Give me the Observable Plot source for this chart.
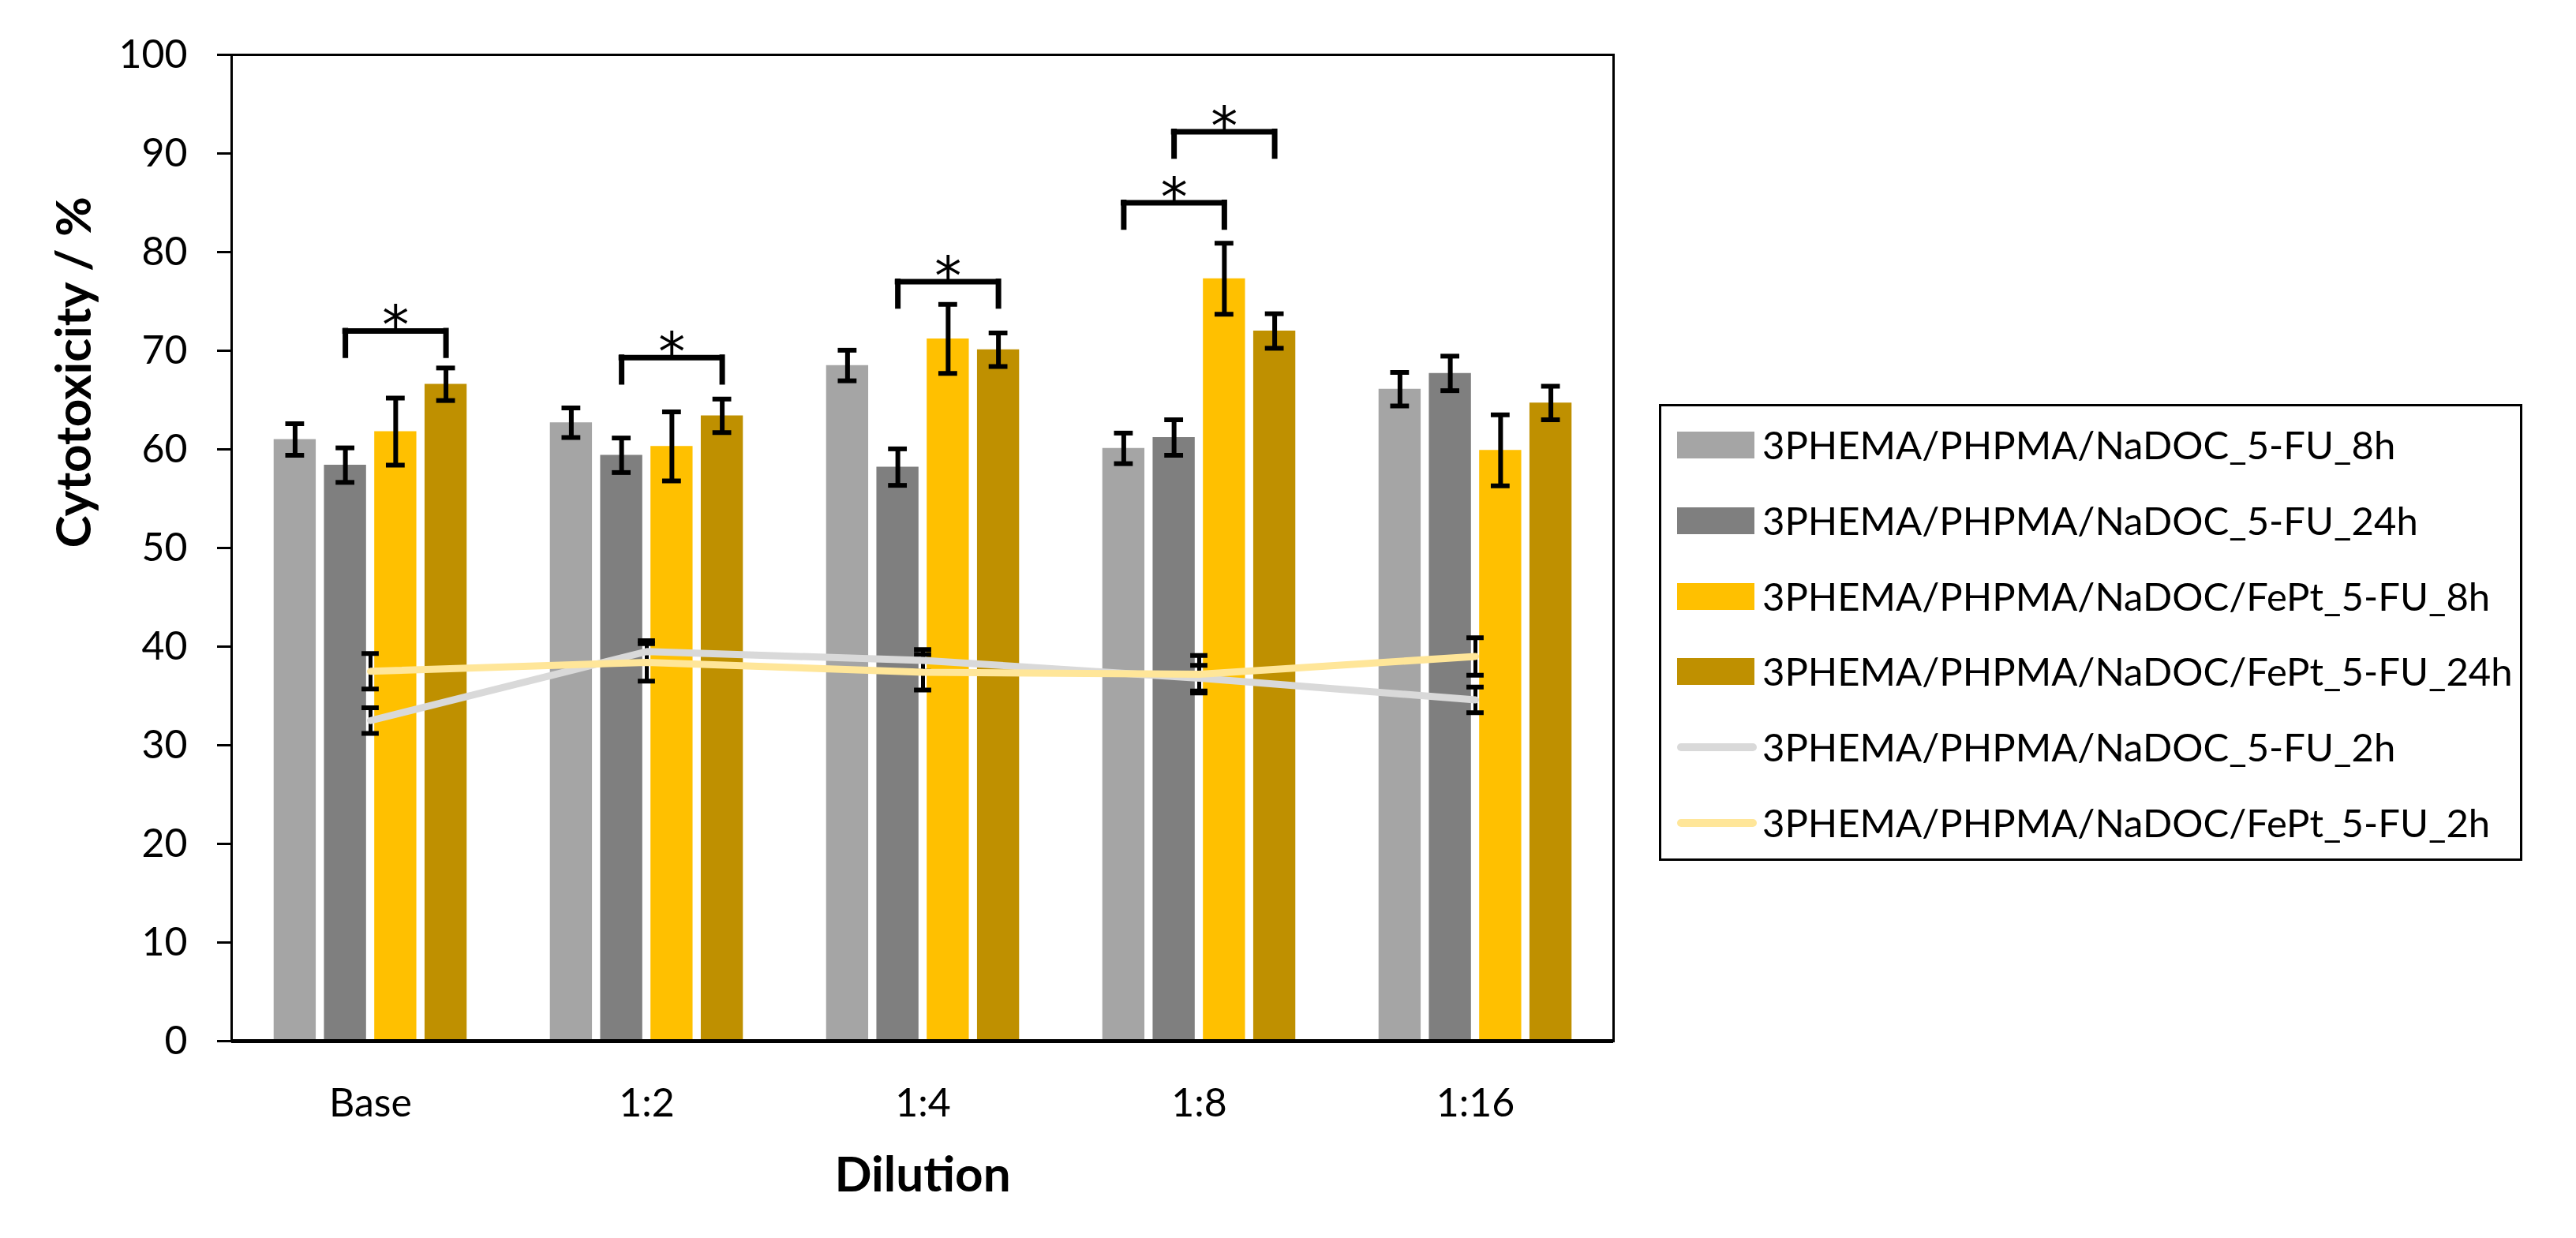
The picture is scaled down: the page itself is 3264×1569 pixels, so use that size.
<!DOCTYPE html>
<html>
<head>
<meta charset="utf-8">
<script src="https://cdn.jsdelivr.net/npm/d3@7"></script>
<script src="https://cdn.jsdelivr.net/npm/@observablehq/plot@0.6"></script>
<style>
  html, body { margin: 0; padding: 0; background: #fff; }
  #wrap { position: relative; width: 3264px; height: 1569px; font-family: Lato, "Open Sans", sans-serif; }
  #legend { position: absolute; left: 2102px; top: 512px; width: 1088px; height: 573px;
            border: 3px solid #000; background: #fff; }
  .row { position: absolute; left: 0; height: 0; width: 100%; }
  .sw { position: absolute; left: 20px; width: 98px; }
  .lbl { position: absolute; left: 128px; top: 0; white-space: nowrap; font-size: 49px; line-height: 1;
         color: #000; transform: translateY(-52%); }
</style>
</head>
<body>
<div id="wrap">
  <div id="chart"></div>
  <div id="legend"></div>
</div>
<script>
// ---------- data ----------
const groups = ["Base", "1:2", "1:4", "1:8", "1:16"];
const seriesNames = [
  "3PHEMA/PHPMA/NaDOC_5-FU_8h",
  "3PHEMA/PHPMA/NaDOC_5-FU_24h",
  "3PHEMA/PHPMA/NaDOC/FePt_5-FU_8h",
  "3PHEMA/PHPMA/NaDOC/FePt_5-FU_24h",
  "3PHEMA/PHPMA/NaDOC_5-FU_2h",
  "3PHEMA/PHPMA/NaDOC/FePt_5-FU_2h"
];
const nadoc8h      = [61.0, 62.7, 68.5, 60.1, 66.1];
const nadoc8hErr   = [1.6, 1.5, 1.55, 1.55, 1.7];
const nadoc24h     = [58.4, 59.4, 58.2, 61.2, 67.7];
const nadoc24hErr  = [1.75, 1.75, 1.85, 1.8, 1.75];
const fept8h       = [61.8, 60.3, 71.2, 77.3, 59.9];
const fept8hErr    = [3.4, 3.5, 3.5, 3.6, 3.6];
const fept24h      = [66.6, 63.4, 70.1, 72.0, 64.7];
const fept24hErr   = [1.65, 1.7, 1.7, 1.75, 1.7];
const nadoc2h      = [32.5, 39.5, 38.6, 36.8, 34.6];
const nadoc2hErr   = [1.3, 1.1, 1.1, 1.3, 1.3];
const fept2h       = [37.5, 38.4, 37.4, 37.2, 39.0];
const fept2hErr    = [1.8, 1.9, 1.8, 1.9, 1.9];
const yTicks = [0, 10, 20, 30, 40, 50, 60, 70, 80, 90, 100];
// significance brackets: group, bar index a, bar index b, bracket level
const brackets = [
  {group: "Base", a: 1, b: 3, level: 72.0},
  {group: "1:2",  a: 1, b: 3, level: 69.3},
  {group: "1:4",  a: 1, b: 3, level: 77.0},
  {group: "1:8",  a: 0, b: 2, level: 85.0},
  {group: "1:8",  a: 1, b: 3, level: 92.2}
];

// ---------- styling ----------
const barColors  = ["#A5A5A5", "#7F7F7F", "#FFC000", "#BF9000"];
const lineColors = ["#D9D9D9", "#FFE699"];

const W = 3264, H = 1569;
const mL = 293, mR = 1220, mT = 69, mB = 250;
const band = (W - mL - mR) / groups.length;
const step = band * 0.182;
const barW = step * 0.84;
const capW = 24;
const offsets = [-1.5, -0.5, 0.5, 1.5].map(k => k * step);
const barInset = (band - barW) / 2;
const capInset = (band - capW) / 2;

const barSeries = [
  [nadoc8h, nadoc8hErr], [nadoc24h, nadoc24hErr], [fept8h, fept8hErr], [fept24h, fept24hErr]
].map(([v, e], i) => groups.map((g, j) => ({group: g, value: v[j], err: e[j], s: i})));
const lineSeries = [
  [nadoc2h, nadoc2hErr], [fept2h, fept2hErr]
].map(([v, e], i) => groups.map((g, j) => ({group: g, value: v[j], err: e[j], s: i})));

const marks = [];
// bars
barSeries.forEach((rows, i) => {
  marks.push(Plot.barY(rows, {x: "group", y: "value", fill: barColors[i], dx: offsets[i],
    insetLeft: barInset, insetRight: barInset}));
});
// bar error bars
barSeries.forEach((rows, i) => {
  marks.push(Plot.ruleX(rows, {x: "group", y1: d => d.value - d.err, y2: d => d.value + d.err,
    dx: offsets[i], stroke: "#000", strokeWidth: 6}));
  marks.push(Plot.tickY(rows, {x: "group", y: d => d.value + d.err, dx: offsets[i],
    insetLeft: capInset, insetRight: capInset, stroke: "#000", strokeWidth: 6}));
  marks.push(Plot.tickY(rows, {x: "group", y: d => d.value - d.err, dx: offsets[i],
    insetLeft: capInset, insetRight: capInset, stroke: "#000", strokeWidth: 6}));
});
// line error bars
const lcapInset = (band - 22) / 2;
lineSeries.forEach((rows, i) => {
  marks.push(Plot.ruleX(rows, {x: "group", y1: d => d.value - d.err, y2: d => d.value + d.err,
    stroke: "#000", strokeWidth: 5}));
  marks.push(Plot.tickY(rows, {x: "group", y: d => d.value + d.err,
    insetLeft: lcapInset, insetRight: lcapInset, stroke: "#000", strokeWidth: 6}));
  marks.push(Plot.tickY(rows, {x: "group", y: d => d.value - d.err,
    insetLeft: lcapInset, insetRight: lcapInset, stroke: "#000", strokeWidth: 6}));
});
// lines
lineSeries.forEach((rows, i) => {
  marks.push(Plot.line(rows, {x: "group", y: "value", stroke: lineColors[i], strokeWidth: 9,
    strokeLinecap: "round", strokeLinejoin: "round"}));
});
// significance brackets
const legLen = 2.5;
brackets.forEach(b => {
  const d = [b];
  const oa = offsets[b.a], ob = offsets[b.b];
  marks.push(Plot.ruleX(d, {x: "group", y1: r => r.level - legLen, y2: "level", dx: oa,
    stroke: "#000", strokeWidth: 7, strokeLinecap: "square"}));
  marks.push(Plot.ruleX(d, {x: "group", y1: r => r.level - legLen, y2: "level", dx: ob,
    stroke: "#000", strokeWidth: 7, strokeLinecap: "square"}));
  marks.push(Plot.tickY(d, {x: "group", y: "level", insetLeft: band / 2 + oa, insetRight: band / 2 - ob,
    stroke: "#000", strokeWidth: 7, strokeLinecap: "square"}));
  marks.push(Plot.text(d, {x: "group", y: "level", text: () => "*", dx: (oa + ob) / 2, dy: -6,
    fontSize: 68, fontFamily: "DejaVu Sans", lineAnchor: "middle", fill: "#000"}));
});
// frame & axes
marks.push(Plot.frame({stroke: "#000", strokeWidth: 3}));
marks.push(Plot.ruleY([0], {stroke: "#000", strokeWidth: 5}));
marks.push(Plot.axisY({ticks: yTicks, tickSize: 18, tickPadding: 38, fontSize: 50, strokeWidth: 3, label: null}));
marks.push(Plot.axisX({tickSize: 0, tickPadding: 60, fontSize: 50, label: null}));
marks.push(Plot.text(["Cytotoxicity / %"], {frameAnchor: "left", text: d => d, rotate: -90, dx: -198,
  fontSize: 62, fontWeight: "bold", fill: "#000"}));
marks.push(Plot.text(["Dilution"], {frameAnchor: "bottom", text: d => d, dy: 190,
  fontSize: 62, fontWeight: "bold", fill: "#000"}));

const chart = Plot.plot({
  width: W, height: H,
  marginLeft: mL, marginRight: mR, marginTop: mT, marginBottom: mB,
  style: {fontFamily: "Lato, 'Open Sans', sans-serif", background: "#fff", color: "#000", overflow: "visible"},
  x: {type: "band", domain: groups, padding: 0},
  y: {domain: [0, 100]},
  marks
});
document.getElementById("chart").appendChild(chart);

// legend
const legend = document.getElementById("legend");
const rowTops = [49, 145, 241, 336, 432, 528];
seriesNames.forEach((name, i) => {
  const row = document.createElement("div");
  row.className = "row";
  row.style.top = rowTops[i] + "px";
  const sw = document.createElement("div");
  sw.className = "sw";
  if (i < 4) {
    sw.style.height = "34px"; sw.style.top = "-17px"; sw.style.background = barColors[i];
  } else {
    sw.style.height = "10px"; sw.style.top = "-5px"; sw.style.background = lineColors[i - 4];
    sw.style.borderRadius = "5px"; sw.style.width = "101px";
  }
  const lbl = document.createElement("div");
  lbl.className = "lbl";
  lbl.textContent = name;
  row.appendChild(sw); row.appendChild(lbl);
  legend.appendChild(row);
});
</script>
</body>
</html>
